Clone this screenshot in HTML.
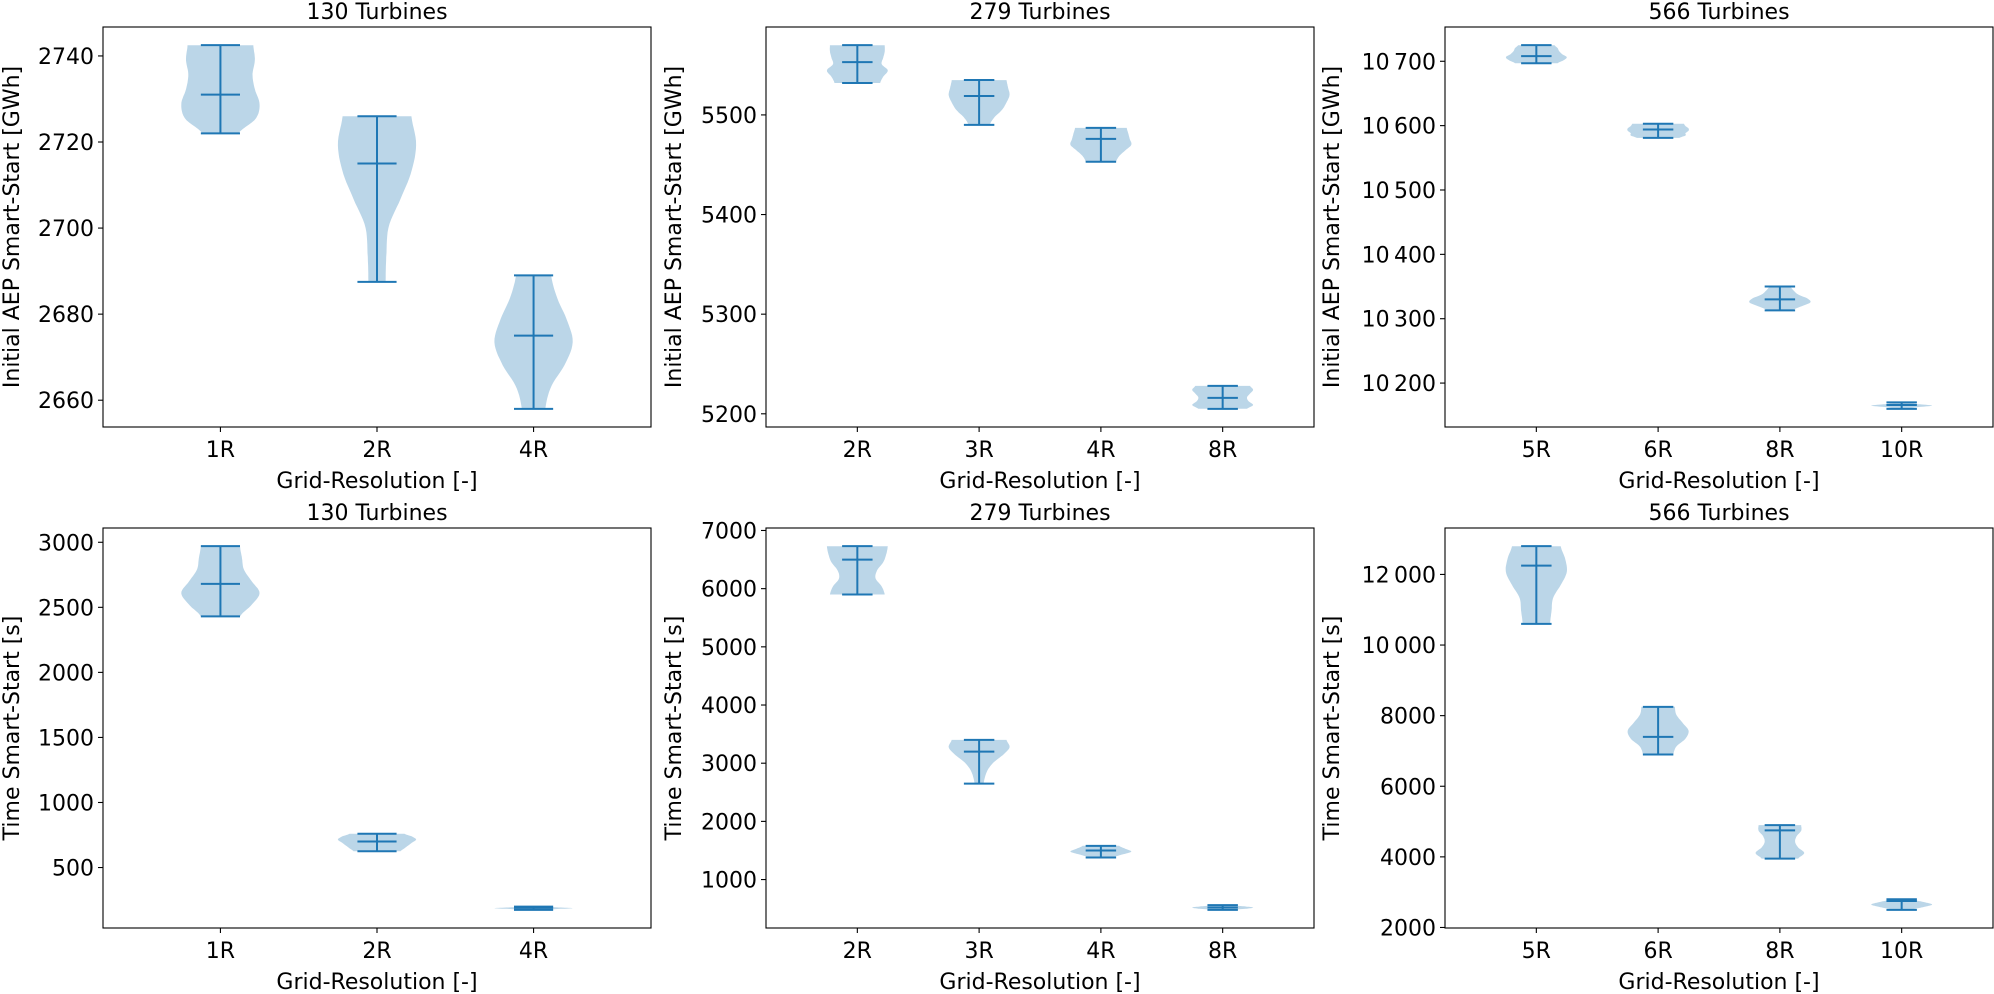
<!DOCTYPE html>
<html><head><meta charset="utf-8">
<style>
html,body{margin:0;padding:0;background:#fff;}
svg{display:block;font-family:"DejaVu Sans","Liberation Sans",sans-serif;}
</style></head>
<body>
<svg id="fig" width="1994" height="994" viewBox="0 0 1994 994" xmlns="http://www.w3.org/2000/svg"></svg>
<script>
// ---- data ----
const titles = ["130 Turbines","279 Turbines","566 Turbines","130 Turbines","279 Turbines","566 Turbines"];
const ylabels = ["Initial AEP Smart-Start [GWh]","Initial AEP Smart-Start [GWh]","Initial AEP Smart-Start [GWh]","Time Smart-Start [s]","Time Smart-Start [s]","Time Smart-Start [s]"];
const cats1 = ["1R","2R","4R"];
const cats2 = ["2R","3R","4R","8R"];
const cats3 = ["5R","6R","8R","10R"];
// AEP row
const aepMin1 = [2722, 2687.5, 2658];
const aepMax1 = [2742.5, 2726, 2689];
const aepMed1 = [2731, 2715, 2675];
const aepMin2 = [5532, 5490, 5453, 5205];
const aepMax2 = [5570, 5535, 5487, 5228];
const aepMed2 = [5553, 5519, 5476, 5216];
const aepMin3 = [10697, 10581, 10313, 10160];
const aepMax3 = [10725, 10603, 10350, 10170];
const aepMed3 = [10708, 10594, 10330, 10166];
// time row
const tMin1 = [2430, 625, 175];
const tMax1 = [2970, 760, 200];
const tMed1 = [2680, 700, 190];
const tMin2 = [5900, 2650, 1380, 480];
const tMax2 = [6730, 3400, 1580, 560];
const tMed2 = [6500, 3200, 1500, 520];
const tMin3 = [10600, 6900, 3950, 2500];
const tMax3 = [12800, 8250, 4900, 2800];
const tMed3 = [12250, 7400, 4750, 2750];
// density profiles (bottom -> top, relative width)
const dens1 = [[0.46,0.9,1.0,0.88,0.82,0.88,0.84],[0.22,0.24,0.3,0.6,0.88,1.0,0.88],[0.3,0.45,0.8,1.0,0.85,0.6,0.45]];
const dens2 = [[0.75,0.85,1.0,0.8,0.85,0.9,0.9],[0.35,0.5,0.75,0.9,1.0,0.95,0.9],[0.5,0.6,0.8,1.0,0.95,0.9,0.85],[0.8,1.0,0.85,0.8,0.9,1.0,0.9]];
const dens3 = [[0.7,0.9,1.0,0.85,0.75,0.7,0.6],[0.7,0.9,0.9,1.0,1.0,0.9,0.85],[0.4,0.7,1.0,0.9,0.6,0.45,0.35],[0.2,0.5,1.0,0.5,0.2]];
const dens4 = [[0.5,0.8,1.0,0.8,0.6,0.55,0.5],[0.6,0.7,0.8,0.9,1.0,0.9,0.7],[0.2,0.6,1.0,0.6,0.2]];
const dens5 = [[0.9,0.8,0.6,0.65,0.85,0.95,1.0],[0.15,0.2,0.3,0.5,0.8,1.0,0.9],[0.4,0.7,1.0,0.8,0.6],[0.3,0.8,1.0,0.7,0.3]];
const dens6 = [[0.45,0.5,0.55,0.8,1.0,0.95,0.8],[0.5,0.6,0.9,1.0,0.8,0.6,0.55],[0.6,0.8,0.6,0.5,0.55,0.7,0.7],[0.3,0.7,1.0,0.7,0.3]];
// y ticks
const yt1 = [2660,2680,2700,2720,2740];
const yt2 = [5200,5300,5400,5500];
const yt3 = [10200,10300,10400,10500,10600,10700];
const yt4 = [500,1000,1500,2000,2500,3000];
const yt5 = [1000,2000,3000,4000,5000,6000,7000];
const yt6 = [2000,4000,6000,8000,10000,12000];

const panels = [
 {cats:cats1,mn:aepMin1,mx:aepMax1,md:aepMed1,dens:dens1,yt:yt1,x:103,y:27},
 {cats:cats2,mn:aepMin2,mx:aepMax2,md:aepMed2,dens:dens2,yt:yt2,x:766,y:27},
 {cats:cats3,mn:aepMin3,mx:aepMax3,md:aepMed3,dens:dens3,yt:yt3,x:1445,y:27},
 {cats:cats1,mn:tMin1,mx:tMax1,md:tMed1,dens:dens4,yt:yt4,x:103,y:528},
 {cats:cats2,mn:tMin2,mx:tMax2,md:tMed2,dens:dens5,yt:yt5,x:766,y:528},
 {cats:cats3,mn:tMin3,mx:tMax3,md:tMed3,dens:dens6,yt:yt6,x:1445,y:528}
];
const W=548,H=400,C="#1f77b4";
const NS="http://www.w3.org/2000/svg";
const svg=document.getElementById('fig');
function mk(tag,attrs,parent){const e=document.createElementNS(NS,tag);for(const k in attrs)e.setAttribute(k,attrs[k]);(parent||svg).appendChild(e);return e;}
function fmt(v){let s=String(v);if(s.length>=5)s=s.slice(0,s.length-3)+"\u2009"+s.slice(-3);return s;}
function interp(p,t){ // catmull-rom
  const n=p.length-1;const f=t*n;let i=Math.floor(f);if(i>=n)i=n-1;const u=f-i;
  const p0=p[Math.max(i-1,0)],p1=p[i],p2=p[i+1],p3=p[Math.min(i+2,n)];
  return 0.5*((2*p1)+(-p0+p2)*u+(2*p0-5*p1+4*p2-p3)*u*u+(-p0+3*p1-3*p2+p3)*u*u*u);
}
panels.forEach((P,pi)=>{
  const g=mk('g',{});
  
  
  const n=P.cats.length;
  const lo=Math.min(...P.mn),hi=Math.max(...P.mx),mg=(hi-lo)*0.05;
  const y0=lo-mg,y1=hi+mg;
  const xs=v=>P.x+(v-0.25)/(n+0.5)*W;
  const ys=v=>P.y+H-(v-y0)/(y1-y0)*H;
  const unit=W/(n+0.5);
  P.cats.forEach((c,i)=>{
    const cx=xs(i+1);const pr=P.dens[i];const N=40;let L=[],R=[];
    for(let k=0;k<=N;k++){const t=k/N;const v=P.mn[i]+(P.mx[i]-P.mn[i])*t;const w=Math.max(0.05,interp(pr,t))*0.25*unit;const yy=ys(v);L.push([cx-w,yy]);R.push([cx+w,yy]);}
    const pts=L.concat(R.reverse()).map(p=>p[0].toFixed(1)+','+p[1].toFixed(1)).join(' ');
    const b=mk('polygon',{points:pts,fill:C,'fill-opacity':0.3,stroke:'none'},g);
    
    
    const cw=0.125*unit;
    const lines=[[cx,ys(P.mn[i]),cx,ys(P.mx[i]),'whisker'],[cx-cw,ys(P.mn[i]),cx+cw,ys(P.mn[i]),'min-cap'],[cx-cw,ys(P.mx[i]),cx+cw,ys(P.mx[i]),'max-cap'],[cx-cw,ys(P.md[i]),cx+cw,ys(P.md[i]),'median-line']];
    lines.forEach(l=>{const e=mk('line',{x1:l[0],y1:l[1],x2:l[2],y2:l[3],stroke:C,'stroke-width':2},g);
      
      });
    mk('line',{x1:cx,y1:P.y+H,x2:cx,y2:P.y+H+5,stroke:'#000','stroke-width':1.1},g);
    const t=mk('text',{x:cx,y:P.y+H+30,'font-size':22,'text-anchor':'middle',fill:'#000'},g);t.textContent=c;
    
    
  });
  P.yt.forEach(v=>{const yy=ys(v);
    mk('line',{x1:P.x-5,y1:yy,x2:P.x,y2:yy,stroke:'#000','stroke-width':1.1},g);
    const t=mk('text',{x:P.x-9,y:yy+8,'font-size':22,'text-anchor':'end',fill:'#000'},g);t.textContent=fmt(v);
    
    });
  const fr=mk('rect',{x:P.x,y:P.y,width:W,height:H,fill:'none',stroke:'#000','stroke-width':1.1},g);
  
  
  const ti=mk('text',{x:P.x+W/2,y:P.y-8,'font-size':22,'text-anchor':'middle',fill:'#000'},g);ti.textContent=titles[pi];
  
  
  const xl=mk('text',{x:P.x+W/2,y:P.y+H+61,'font-size':22,'text-anchor':'middle',fill:'#000'},g);xl.textContent="Grid-Resolution [-]";
  
  
  const lx=[19,681,1339][pi%3];const cy=P.y+H/2;
  const yl=mk('text',{x:lx,y:cy,'font-size':22,'text-anchor':'middle',fill:'#000',transform:'rotate(-90 '+lx+' '+cy+')'},g);yl.textContent=ylabels[pi];
  
  
});
</script>
</body></html>
